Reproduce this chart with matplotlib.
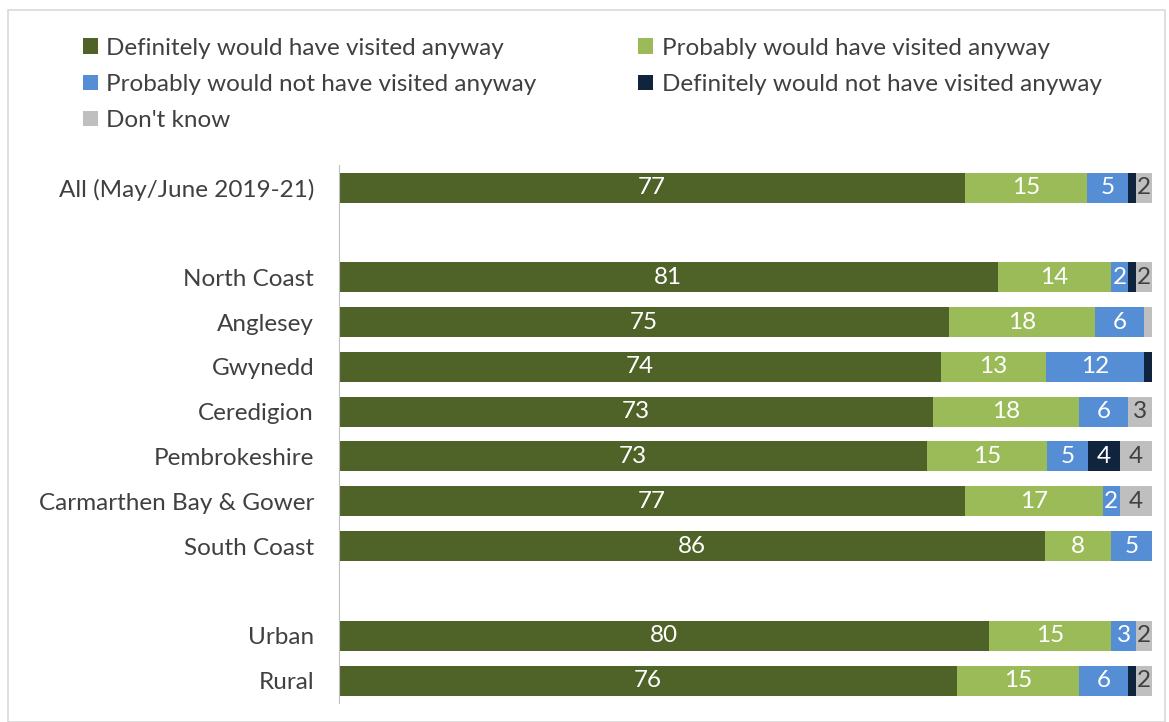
import numpy as np
import matplotlib.pyplot as plt
from matplotlib.patches import Rectangle

plt.rcParams['font.family'] = ['Lato', 'DejaVu Sans']

# data (percent of visitors)
categories = ["All (May/June 2019-21)", "",
              "North Coast", "Anglesey", "Gwynedd", "Ceredigion",
              "Pembrokeshire", "Carmarthen Bay & Gower", "South Coast", "",
              "Urban", "Rural"]

definitely     = [77, 0, 81, 75, 74, 73, 73, 77, 86, 0, 80, 76]
probably       = [15, 0, 14, 18, 13, 18, 15, 17, 8, 0, 15, 15]
probably_not   = [5, 0, 2, 6, 12, 6, 5, 2, 5, 0, 3, 6]
definitely_not = [1, 0, 1, 0, 1, 0, 4, 0, 0, 0, 0, 1]
dont_know      = [2, 0, 2, 1, 0, 3, 4, 4, 0, 0, 2, 2]

series_names = ["Definitely would have visited anyway",
                "Probably would have visited anyway",
                "Probably would not have visited anyway",
                "Definitely would not have visited anyway",
                "Don't know"]
colors = ["#4F6228", "#9BBB59", "#558ED5", "#10243E", "#BFBFBF"]
label_colors = ["white", "white", "white", "white", "#404040"]

series = np.array([definitely, probably, probably_not, definitely_not, dont_know], dtype=float)
totals = series.sum(axis=0)
totals[totals == 0] = 1
shares = series / totals * 100  # 100% stacked

fs = 17.5

fig = plt.figure(figsize=(11.69, 7.22), dpi=100)
ax = fig.add_axes([0.29, 0.0263, 0.6955, 0.745])

y = np.arange(len(categories))
left = np.zeros(len(categories))
handles = []
for i in range(len(series)):
    bars = ax.barh(y, shares[i], left=left, height=0.67, color=colors[i],
                   label=series_names[i], linewidth=0)
    handles.append(bars)
    for j in range(len(categories)):
        v = series[i, j]
        if v >= 2:
            ax.text(left[j] + shares[i, j] / 2, y[j], f"{int(v)}",
                    ha="center", va="center", fontsize=fs,
                    color=label_colors[i])
    left += shares[i]

ax.set_xlim(0, 100)
ax.set_ylim(len(categories) - 0.5, -0.5)
ax.set_yticks(y)
ax.set_yticklabels(categories, fontsize=fs, color="#404040")
ax.tick_params(axis="y", length=0, pad=18)
ax.set_xticks([])
for s in ["top", "right", "bottom"]:
    ax.spines[s].set_visible(False)
ax.spines["left"].set_color("#BFBFBF")

order = [0, 2, 4, 1, 3]
fig.legend([handles[k] for k in order], [series_names[k] for k in order],
           ncol=2, loc="upper left", bbox_to_anchor=(0.071, 0.948),
           frameon=False, fontsize=fs, labelcolor="#404040",
           borderpad=0, borderaxespad=0,
           handlelength=0.6, handleheight=0.6, handletextpad=0.35,
           columnspacing=4.2, labelspacing=0.63)

fig.patches.append(Rectangle((0.007, 0.0), 0.99, 0.986, transform=fig.transFigure,
                             fill=False, edgecolor="#D9D9D9", linewidth=1.2))

fig.savefig("out.png", dpi=100)
